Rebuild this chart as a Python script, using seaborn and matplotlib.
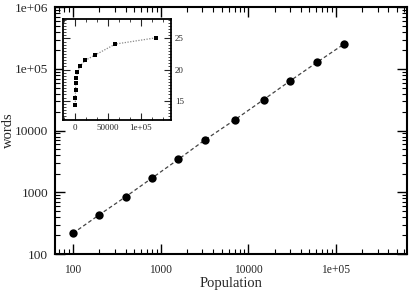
import matplotlib
matplotlib.use("Agg")
import matplotlib.pyplot as plt
import matplotlib.ticker as mticker
import seaborn as sns
import numpy as np

# data
population = [100, 200, 400, 800, 1600, 3200, 7000, 15000, 30000, 61000, 123000]
words = [217, 433, 849, 1708, 3434, 7060, 14900, 31800, 63800, 128000, 251000]
inset_y = [14.36, 15.43, 16.76, 17.79, 18.64, 19.55, 20.51, 21.47, 22.32, 24.09, 25.1]

main_xticks = [100, 1000, 10000, 100000]
main_xticklabels = ["100", "1000", "10000", "1e+05"]
main_yticks = [100, 1000, 10000, 100000, 1000000]
main_yticklabels = ["100", "1000", "10000", "1e+05", "1e+06"]
inset_xticks = [0, 50000, 100000]
inset_xticklabels = ["0", "50000", "1e+05"]
inset_yticks = [15, 20, 25]

sns.set_style("ticks")
plt.rcParams['font.family'] = ['Liberation Serif', 'DejaVu Serif']

fig = plt.figure(figsize=(4.15, 2.91), dpi=100)
ax = fig.add_axes([0.1325, 0.1271, 0.9807 - 0.1325, 0.9749 - 0.1271])

sns.lineplot(x=population, y=words, ax=ax, color="#444444", linestyle=(0, (3, 2)),
             linewidth=0.9, sort=False)
sns.scatterplot(x=population, y=words, ax=ax, color="black", s=36, marker="o",
                edgecolor="black", linewidth=0, zorder=5)
ax.set_xscale("log")
ax.set_yscale("log")
ax.set_xlim(62.3, 651000)
ax.set_ylim(100, 1000000)
ax.xaxis.set_major_locator(mticker.FixedLocator(main_xticks))
ax.xaxis.set_major_formatter(mticker.FixedFormatter(main_xticklabels))
ax.yaxis.set_major_locator(mticker.FixedLocator(main_yticks))
ax.yaxis.set_major_formatter(mticker.FixedFormatter(main_yticklabels))
ax.xaxis.set_minor_locator(mticker.LogLocator(base=10, subs=np.arange(2, 10), numticks=20))
ax.yaxis.set_minor_locator(mticker.LogLocator(base=10, subs=np.arange(2, 10), numticks=20))
ax.xaxis.set_minor_formatter(mticker.NullFormatter())
ax.yaxis.set_minor_formatter(mticker.NullFormatter())
ax.tick_params(which="both", direction="in", top=True, right=True, color="black")
ax.tick_params(axis="x", which="major", labelsize=8.3, pad=7)
ax.tick_params(axis="y", which="major", labelsize=9.6, pad=5)
ax.tick_params(which="major", length=7, width=1)
ax.tick_params(which="minor", length=3.5, width=0.8)
for s in ax.spines.values():
    s.set_linewidth(1.5)
    s.set_color("black")
ax.set_xlabel("Population", fontsize=10.5, labelpad=1)
ax.set_ylabel("words", fontsize=10.5, va="center")
ax.yaxis.set_label_coords(-0.131, 0.5)

# inset
axi = fig.add_axes([0.151, 0.5876, 0.412 - 0.151, 0.9364 - 0.5876])
sns.lineplot(x=population, y=inset_y, ax=axi, color="#888888", linestyle=(0, (1, 1.2)),
             linewidth=0.9, sort=False)
sns.scatterplot(x=population, y=inset_y, ax=axi, color="black", s=10, marker="s",
                linewidth=0, zorder=5)
axi.set_xlim(-19200, 146000)
axi.set_ylim(11.9, 28.2)
axi.xaxis.set_major_locator(mticker.FixedLocator(inset_xticks))
axi.xaxis.set_major_formatter(mticker.FixedFormatter(inset_xticklabels))
axi.yaxis.set_major_locator(mticker.FixedLocator(inset_yticks))
axi.xaxis.set_minor_locator(mticker.AutoMinorLocator(3))
axi.yaxis.set_minor_locator(mticker.AutoMinorLocator(10))
axi.tick_params(which="both", direction="in", top=True, right=True, left=True,
                labelleft=False, labelright=True, labelsize=6.5, pad=3)
axi.tick_params(which="major", length=5, width=0.8)
axi.tick_params(which="minor", length=2.5, width=0.6)
for s in axi.spines.values():
    s.set_linewidth(1.3)
    s.set_color("black")
axi.set_xlabel("")
axi.set_ylabel("")

fig.savefig("out.png", dpi=100)
